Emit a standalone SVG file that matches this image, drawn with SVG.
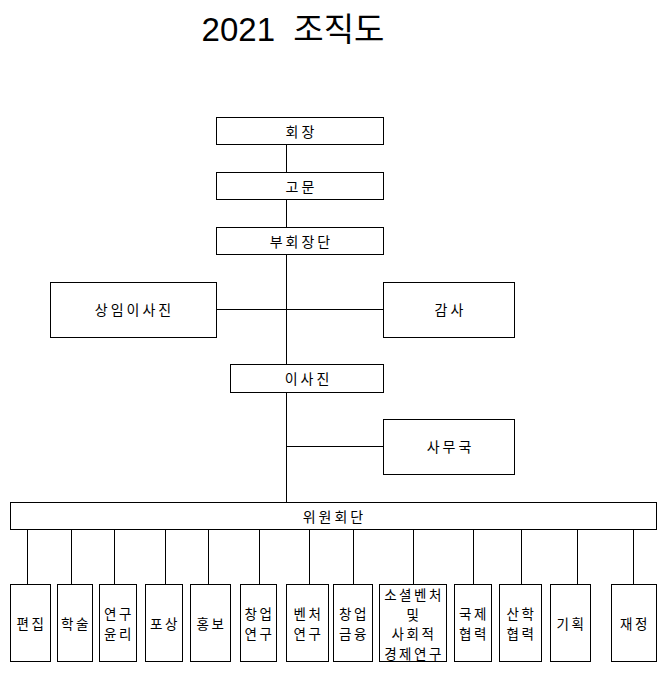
<svg xmlns="http://www.w3.org/2000/svg" width="668" height="678" viewBox="0 0 668 678">
<style>
.b{fill:#fff;stroke:#000;stroke-width:1}
.c line{stroke:#000;stroke-width:1}
text{font-family:"Noto Sans CJK KR","Noto Sans",sans-serif;fill:#000;text-anchor:middle;dominant-baseline:central}
.t{font-size:14px;letter-spacing:3px}
.s{font-size:13.5px;letter-spacing:2.5px}
.h{font-family:"Liberation Sans","Noto Sans CJK KR",sans-serif;font-size:33px;dominant-baseline:auto}
</style>
<rect width="668" height="678" fill="#fff"/>
<text class="h" x="293" y="41" xml:space="preserve">2021  조직도</text>
<g class="c" shape-rendering="crispEdges">
<line x1="286.5" y1="144" x2="286.5" y2="502"/>
<line x1="216" y1="309.5" x2="383" y2="309.5"/>
<line x1="286" y1="446.5" x2="383" y2="446.5"/>
<line x1="27.5" y1="529" x2="27.5" y2="584"/>
<line x1="71.5" y1="529" x2="71.5" y2="584"/>
<line x1="114.5" y1="529" x2="114.5" y2="584"/>
<line x1="165.5" y1="529" x2="165.5" y2="584"/>
<line x1="208.5" y1="529" x2="208.5" y2="584"/>
<line x1="259.5" y1="529" x2="259.5" y2="584"/>
<line x1="309.5" y1="529" x2="309.5" y2="584"/>
<line x1="353.5" y1="529" x2="353.5" y2="584"/>
<line x1="413.5" y1="529" x2="413.5" y2="584"/>
<line x1="473.5" y1="529" x2="473.5" y2="584"/>
<line x1="521.5" y1="529" x2="521.5" y2="584"/>
<line x1="577.5" y1="529" x2="577.5" y2="584"/>
<line x1="633.5" y1="529" x2="633.5" y2="584"/>
</g>
<g shape-rendering="crispEdges">
<g id="n-hoejang"><rect class="b" x="216.5" y="117.5" width="167" height="27"/><text class="t" x="301.5" y="131">회장</text></g>
<g id="n-gomun"><rect class="b" x="216.5" y="172.5" width="167" height="27"/><text class="t" x="301.5" y="186">고문</text></g>
<g id="n-buhoejangdan"><rect class="b" x="216.5" y="227.5" width="167" height="27"/><text class="t" x="301.5" y="241">부회장단</text></g>
<g id="n-sangim"><rect class="b" x="50.5" y="282.5" width="166" height="55"/><text class="t" x="134.5" y="309">상임이사진</text></g>
<g id="n-gamsa"><rect class="b" x="383.5" y="282.5" width="131" height="55"/><text class="t" x="450.5" y="309">감사</text></g>
<g id="n-isajin"><rect class="b" x="230.5" y="364.5" width="153" height="28"/><text class="t" x="308.5" y="378">이사진</text></g>
<g id="n-samuguk"><rect class="b" x="383.5" y="419.5" width="131" height="55"/><text class="t" x="450.5" y="446">사무국</text></g>
<g id="n-wiwon"><rect class="b" x="10.5" y="502.5" width="646" height="27"/><text class="t" x="334.5" y="516">위원회단</text></g>
<g id="n-pyeonjip"><rect class="b" x="10.5" y="584.5" width="40" height="77"/><text class="s" x="31.5" y="623">편집</text></g>
<g id="n-haksul"><rect class="b" x="57.5" y="584.5" width="35" height="77"/><text class="s" x="76" y="623">학술</text></g>
<g id="n-yeongu"><rect class="b" x="99.5" y="584.5" width="37" height="77"/><text class="s" x="119" y="613">연구</text><text class="s" x="119" y="633">윤리</text></g>
<g id="n-posang"><rect class="b" x="145.5" y="584.5" width="37" height="77"/><text class="s" x="165" y="623">포상</text></g>
<g id="n-hongbo"><rect class="b" x="190.5" y="584.5" width="40" height="77"/><text class="s" x="211.5" y="623">홍보</text></g>
<g id="n-changeop"><rect class="b" x="240.5" y="584.5" width="36" height="77"/><text class="s" x="259.5" y="613">창업</text><text class="s" x="259.5" y="633">연구</text></g>
<g id="n-venture"><rect class="b" x="286.5" y="584.5" width="42" height="77"/><text class="s" x="308.5" y="613">벤처</text><text class="s" x="308.5" y="633">연구</text></g>
<g id="n-finance"><rect class="b" x="333.5" y="584.5" width="39" height="77"/><text class="s" x="354" y="613">창업</text><text class="s" x="354" y="633">금융</text></g>
<g id="n-social"><rect class="b" x="379.5" y="584.5" width="67" height="77"/><text class="s" x="414" y="594">소셜벤처</text><text class="s" x="414" y="613.5">및</text><text class="s" x="414" y="633">사회적</text><text class="s" x="414" y="652.5">경제연구</text></g>
<g id="n-intl"><rect class="b" x="454.5" y="584.5" width="37" height="77"/><text class="s" x="474" y="613">국제</text><text class="s" x="474" y="633">협력</text></g>
<g id="n-sanhak"><rect class="b" x="499.5" y="584.5" width="42" height="77"/><text class="s" x="521.5" y="613">산학</text><text class="s" x="521.5" y="633">협력</text></g>
<g id="n-plan"><rect class="b" x="550.5" y="584.5" width="40" height="77"/><text class="s" x="571.5" y="623">기획</text></g>
<g id="n-fin2"><rect class="b" x="611.5" y="584.5" width="45" height="77"/><text class="s" x="635" y="623">재정</text></g>
</g>
</svg>
